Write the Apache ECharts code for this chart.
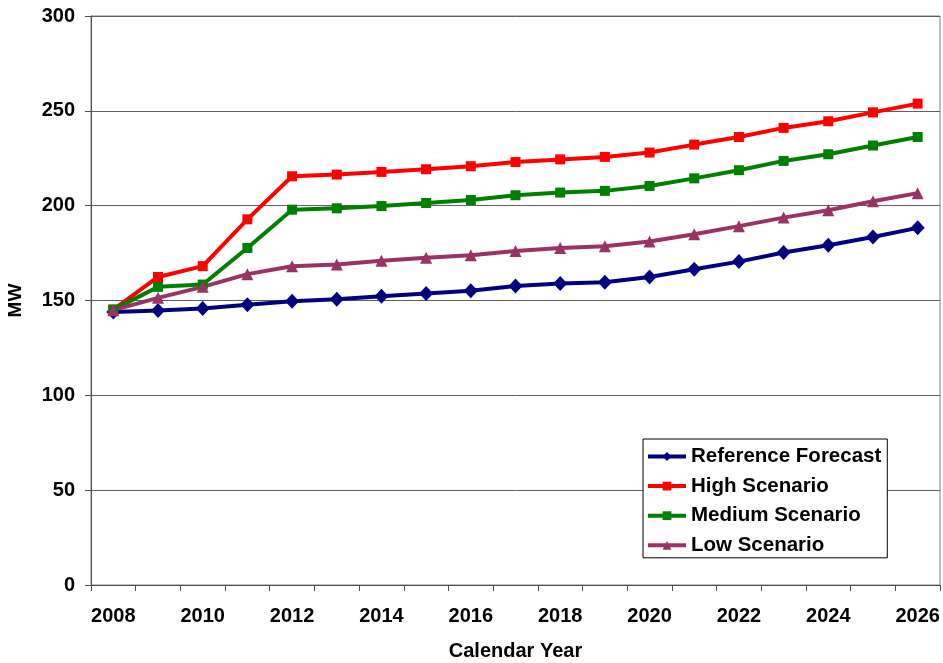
<!DOCTYPE html>
<html>
<head>
<meta charset="utf-8">
<script src="https://cdn.jsdelivr.net/npm/echarts@6/dist/echarts.min.js"></script>
<style>
  html, body { margin: 0; padding: 0; background: #ffffff; }
  #chart { width: 943px; height: 663px; }
</style>
</head>
<body>
<div id="chart"></div>
<script>
// Calendar years on the horizontal axis
const years = ['2008','2009','2010','2011','2012','2013','2014','2015','2016','2017',
               '2018','2019','2020','2021','2022','2023','2024','2025','2026'];

// Peak demand forecasts, MW
const referenceForecast = [144.0,144.7,145.8,147.7,149.6,150.7,152.2,153.7,155.1,157.7,
                           159.0,159.6,162.4,166.5,170.5,175.3,179.1,183.5,188.3];
const highScenario      = [145.2,162.4,168.1,192.8,215.5,216.4,217.8,219.2,220.8,223.0,
                           224.4,225.7,228.0,232.2,236.2,241.0,244.5,249.2,253.8];
const mediumScenario    = [145.2,157.2,158.4,177.7,197.9,198.6,199.8,201.4,203.0,205.5,
                           206.9,207.8,210.4,214.4,218.7,223.6,227.1,231.7,236.2];
const lowScenario       = [144.9,151.4,157.2,163.9,168.1,169.0,170.9,172.5,173.9,176.1,
                           177.7,178.6,181.1,184.9,189.2,193.7,197.6,202.3,206.6];

const FONT = 'Liberation Sans, Arial, sans-serif';

function line(name, data, color, symbol, size) {
  return {
    name: name,
    type: 'line',
    data: data,
    symbol: symbol,
    symbolSize: size,
    showSymbol: true,
    lineStyle: { color: color, width: 4 },
    itemStyle: { color: color },
    emphasis: { disabled: true },
    animation: false
  };
}

const chart = echarts.init(document.getElementById('chart'), null, { renderer: 'canvas' });
chart.setOption({
  backgroundColor: '#ffffff',
  animation: false,
  grid: {
    left: 91, right: 3, top: 16, bottom: 78,
    containLabel: false,
    outerBoundsMode: 'none',
    show: true, borderColor: '#808080', borderWidth: 1, backgroundColor: '#ffffff'
  },
  legend: {
    orient: 'vertical',
    left: 643, top: 439,
    padding: [7, 6, 2, 3],
    itemGap: 8.6,
    itemWidth: 38,
    itemHeight: 11,
    lineStyle: { width: 4 },
    borderColor: '#000000',
    borderWidth: 1,
    backgroundColor: '#ffffff',
    textStyle: { fontFamily: FONT, fontWeight: 'bold', fontSize: 20.5, color: '#000000' },
    data: ['Reference Forecast', 'High Scenario', 'Medium Scenario', 'Low Scenario']
  },
  xAxis: {
    type: 'category',
    data: years,
    boundaryGap: true,
    name: 'Calendar Year',
    nameLocation: 'middle',
    nameGap: 56,
    nameTextStyle: { fontFamily: FONT, fontWeight: 'bold', fontSize: 20, color: '#000000' },
    axisLine: { lineStyle: { color: '#505050', width: 1 } },
    axisTick: { show: true, interval: 0, length: 6, inside: false, lineStyle: { color: '#505050' } },
    axisLabel: { interval: 1, margin: 21, fontFamily: FONT, fontWeight: 'bold', fontSize: 20, color: '#000000' },
    splitLine: { show: false }
  },
  yAxis: {
    type: 'value',
    min: 0, max: 300, interval: 50,
    name: 'MW',
    nameLocation: 'middle',
    nameGap: 66,
    nameRotate: 90,
    nameTextStyle: { fontFamily: FONT, fontWeight: 'bold', fontSize: 19, color: '#000000' },
    axisLine: { show: true, lineStyle: { color: '#505050', width: 1 } },
    axisTick: { show: true, length: 6, inside: false, lineStyle: { color: '#505050' } },
    axisLabel: { margin: 16, fontFamily: FONT, fontWeight: 'bold', fontSize: 20, color: '#000000' },
    splitLine: { show: true, lineStyle: { color: '#606060', width: 1 } }
  },
  series: [
    line('Reference Forecast', referenceForecast, '#000080', 'diamond', [14, 15]),
    line('High Scenario', highScenario, '#ff0000', 'rect', 10),
    line('Medium Scenario', mediumScenario, '#008000', 'rect', 10),
    line('Low Scenario', lowScenario, '#993366', 'triangle', 12)
  ]
});
</script>
</body>
</html>
